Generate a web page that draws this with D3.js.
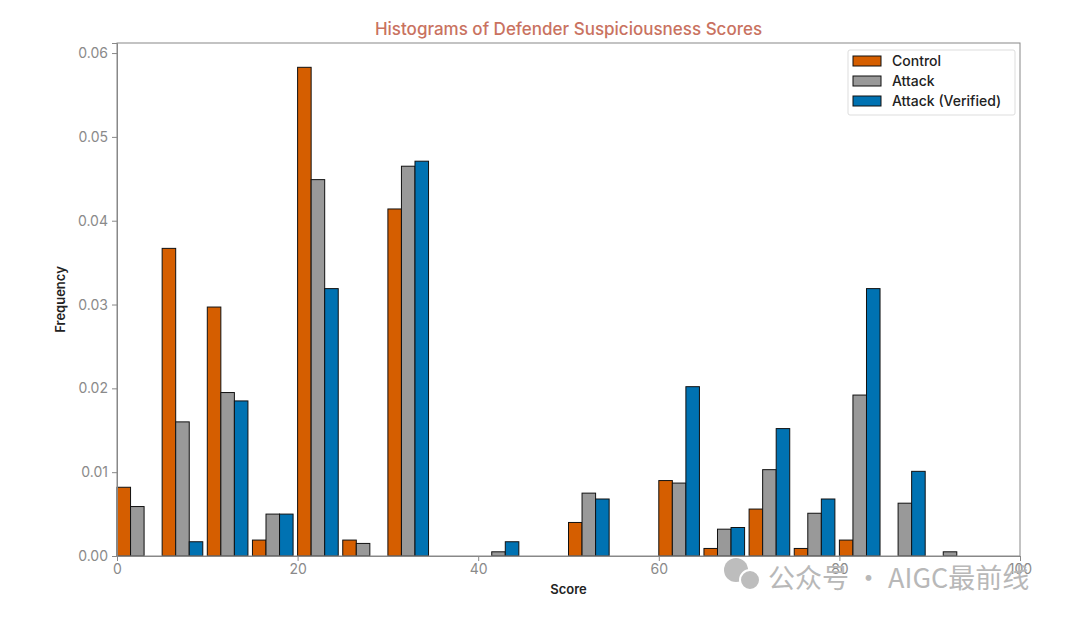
<!DOCTYPE html>
<html>
<head>
<meta charset="utf-8">
<script src="https://cdn.jsdelivr.net/npm/d3@7"></script>
<style>
  html, body { margin: 0; padding: 0; background: #fff; }
  svg { display: block; font-family: Inter, "DejaVu Sans", sans-serif; }
</style>
</head>
<body>
<svg id="chart" width="1080" height="620"></svg>
<script>
// ---- data ----
const binStarts = [0, 5, 10, 15, 20, 25, 30, 35, 40, 45, 50, 55, 60, 65, 70, 75, 80, 85, 90, 95];
const binWidth = 5;
const seriesNames = ["Control", "Attack", "Attack (Verified)"];
const control  = [0.0082, 0.0367, 0.0297, 0.0019, 0.0583, 0.0019, 0.0414, 0, 0,       0, 0.0040, 0, 0.0090, 0.0009, 0.0056, 0.0009, 0.0019, 0,      0,      0];
const attack   = [0.0059, 0.0160, 0.0195, 0.0050, 0.0449, 0.0015, 0.0465, 0, 0.0005, 0, 0.0075, 0, 0.0087, 0.0032, 0.0103, 0.0051, 0.0192, 0.0063, 0.0005, 0];
const verified = [0,      0.0017, 0.0185, 0.0050, 0.0319, 0,      0.0471, 0, 0.0017, 0, 0.0068, 0, 0.0202, 0.0034, 0.0152, 0.0068, 0.0319, 0.0101, 0,      0];
const xTicks = [0, 20, 40, 60, 80, 100];
const yTicks = [0, 0.01, 0.02, 0.03, 0.04, 0.05, 0.06];
const colors = ["#d55e00", "#999999", "#0072b2"];
const titleText = "Histograms of Defender Suspiciousness Scores";
const xLabel = "Score";
const yLabel = "Frequency";
const watermark = "公众号 · AIGC最前线";

// ---- layout ----
const svg = d3.select("#chart");
const L = 117, R = 1020, T = 43, B = 556;
const x = d3.scaleLinear().domain([0, 100]).range([L, R]);
const y = d3.scaleLinear().domain([0, 0.0612]).range([B, T]);
const allSeries = [control, attack, verified];
const barW = binWidth * 0.9 / 3;

// bars
allSeries.forEach((vals, k) => {
  svg.append("g").selectAll("rect")
    .data(vals.map((v, i) => ({ v, start: binStarts[i] })))
    .join("rect")
    .attr("x", d => x(d.start + k * barW))
    .attr("width", d => x(barW) - x(0))
    .attr("y", d => y(d.v))
    .attr("height", d => y(0) - y(d.v))
    .attr("fill", colors[k])
    .attr("stroke", "#111")
    .attr("stroke-width", 1);
});

// frame
const spine = "#888";
svg.append("rect").attr("x", L).attr("y", T).attr("width", R - L).attr("height", B - T)
  .attr("fill", "none").attr("stroke", spine).attr("stroke-width", 1);

// axes
const xAxis = svg.append("g").attr("transform", `translate(0,${B})`)
  .call(d3.axisBottom(x).tickValues(xTicks).tickFormat(d3.format("d")).tickSize(5).tickPadding(3));
const yAxis = svg.append("g").attr("transform", `translate(${L},0)`)
  .call(d3.axisLeft(y).tickValues(yTicks).tickFormat(d3.format(".2f")).tickSize(5).tickPadding(4));
[xAxis, yAxis].forEach(a => {
  a.select(".domain").attr("stroke", spine);
  a.selectAll(".tick line").attr("stroke", spine);
  a.selectAll(".tick text").attr("fill", "#8a8a8a").style("font-size", "14px")
    .style("font-family", "Inter, 'DejaVu Sans', sans-serif");
});

// title & labels
svg.append("text").attr("x", (L + R) / 2).attr("y", 35).attr("text-anchor", "middle")
  .attr("fill", "#c9725f").style("font-size", "17px").style("font-weight", "500").text(titleText);
svg.append("text").attr("x", (L + R) / 2).attr("y", 594).attr("text-anchor", "middle")
  .attr("fill", "#222").style("font-size", "13px").style("font-weight", "600").text(xLabel);
svg.append("text").attr("transform", `translate(65,${(T + B) / 2}) rotate(-90)`)
  .attr("text-anchor", "middle").attr("fill", "#222").style("font-size", "13px")
  .style("font-weight", "600").text(yLabel);

// legend
const lg = svg.append("g").attr("transform", "translate(848,50)");
lg.append("rect").attr("width", 167).attr("height", 65).attr("rx", 2)
  .attr("fill", "#fff").attr("stroke", "#ddd");
seriesNames.forEach((n, k) => {
  lg.append("rect").attr("x", 5).attr("y", 6 + k * 20).attr("width", 28).attr("height", 10)
    .attr("fill", colors[k]).attr("stroke", "#111");
  lg.append("text").attr("x", 44).attr("y", 16 + k * 20).attr("fill", "#222")
    .style("font-size", "14px").style("font-weight", "500").text(n);
});

// watermark
const wm = svg.append("g").attr("transform", "translate(736,572)").attr("fill", "#bdbdbd");
wm.append("circle").attr("cx", 0).attr("cy", -2).attr("r", 12);
wm.append("circle").attr("cx", 14).attr("cy", 8).attr("r", 10).attr("stroke", "#fff").attr("stroke-width", 2);
svg.append("text").attr("x", 768).attr("y", 588).attr("fill", "#b8b8b8")
  .style("font-size", "27px").style("font-family", "'Noto Sans CJK SC', sans-serif").text(watermark);
</script>
</body>
</html>
